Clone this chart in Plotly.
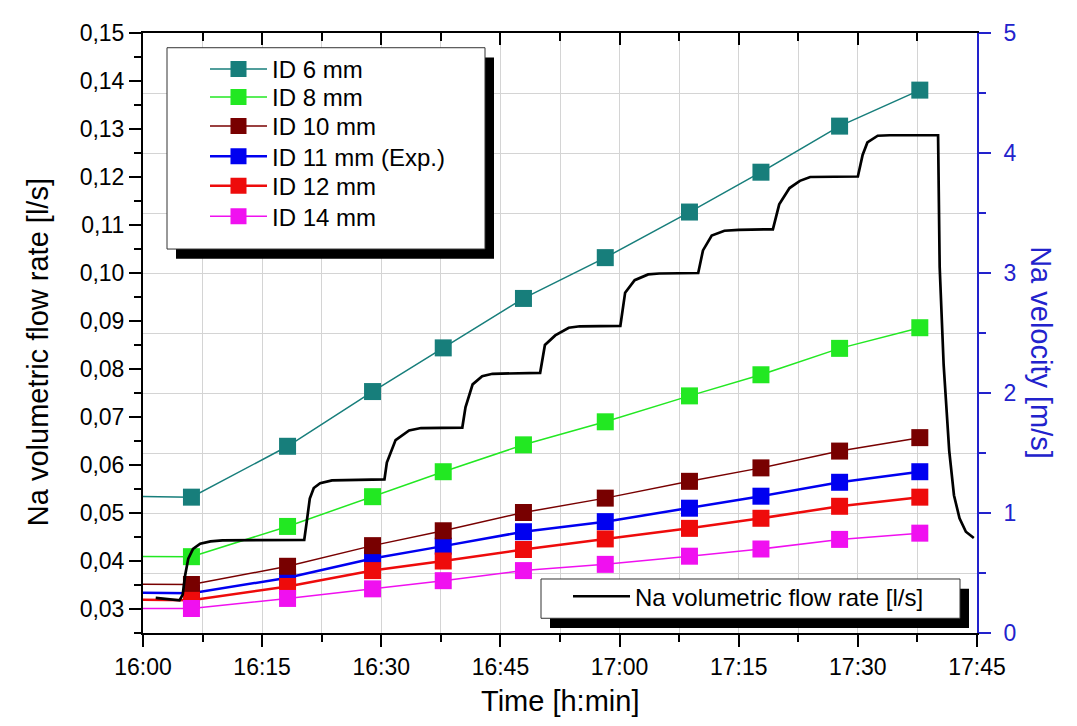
import pandas as pd
import plotly.graph_objects as go

DAY = "2024-01-01 "

# ---- data ----------------------------------------------------------------
marker_times = ["15:56:00", "16:06:06", "16:18:12", "16:28:54", "16:37:48", "16:47:54",
                "16:58:12", "17:08:48", "17:17:48", "17:27:42", "17:37:48"]
id6_flow = [0.0535, 0.0533, 0.0639, 0.0753, 0.0844, 0.0947, 0.1032, 0.1127, 0.1210, 0.1306, 0.1381]
id8_flow = [0.0410, 0.0409, 0.0472, 0.0534, 0.0586, 0.0642, 0.0690, 0.0744, 0.0788, 0.0843, 0.0886]
id10_flow = [0.0352, 0.0351, 0.0389, 0.0432, 0.0463, 0.0501, 0.0531, 0.0566, 0.0594, 0.0629, 0.0657]
id11_flow = [0.0334, 0.0333, 0.0365, 0.0405, 0.0431, 0.0461, 0.0482, 0.0510, 0.0535, 0.0564, 0.0586]
id12_flow = [0.0320, 0.0318, 0.0347, 0.0380, 0.0400, 0.0424, 0.0446, 0.0468, 0.0489, 0.0514, 0.0533]
id14_flow = [0.0301, 0.0301, 0.0322, 0.0342, 0.0359, 0.0380, 0.0393, 0.0410, 0.0425, 0.0445, 0.0458]

measured_times = [
    "16:01:36", "16:03:00", "16:04:36", "16:05:00", "16:05:18", "16:05:42", "16:06:18",
    "16:07:12", "16:08:30", "16:10:00", "16:20:18", "16:20:36", "16:21:00", "16:21:30",
    "16:22:18", "16:23:48", "16:30:24", "16:30:42", "16:31:48", "16:33:30", "16:35:00",
    "16:40:12", "16:40:36", "16:41:30", "16:42:42", "16:44:00", "16:50:00", "16:50:36",
    "16:51:54", "16:53:36", "16:55:00", "17:00:06", "17:00:42", "17:01:54", "17:03:36",
    "17:05:00", "17:09:54", "17:10:30", "17:11:36", "17:13:12", "17:15:00", "17:19:18",
    "17:20:06", "17:21:24", "17:22:42", "17:24:00", "17:30:00", "17:30:36", "17:31:12",
    "17:32:30", "17:34:00", "17:40:06", "17:40:18", "17:40:48", "17:41:30", "17:42:06",
    "17:42:48", "17:43:36", "17:44:36"]
measured_flow = [
    0.0323, 0.0321, 0.0318, 0.0330, 0.0370, 0.0405, 0.0425,
    0.0436, 0.0441, 0.0443, 0.0444, 0.0480, 0.0530, 0.0552,
    0.0562, 0.0568, 0.0570, 0.0605, 0.0652, 0.0672, 0.0677,
    0.0678, 0.0720, 0.0768, 0.0785, 0.0790, 0.0792, 0.0850,
    0.0870, 0.0886, 0.0889, 0.0890, 0.0959, 0.0985, 0.0997,
    0.0999, 0.1000, 0.1047, 0.1078, 0.1088, 0.1090, 0.1091,
    0.1143, 0.1177, 0.1192, 0.1200, 0.1201, 0.1246, 0.1272,
    0.1286, 0.1287, 0.1287, 0.1013, 0.0809, 0.0630, 0.0537,
    0.0489, 0.0461, 0.0448]

series_names = ["ID 6 mm", "ID 8 mm", "ID 10 mm", "ID 11 mm (Exp.)", "ID 12 mm", "ID 14 mm"]
series_values = [id6_flow, id8_flow, id10_flow, id11_flow, id12_flow, id14_flow]
series_colors = ["#177e7b", "#22e822", "#780000", "#0000f0", "#ee0b0b", "#f010f0"]
series_widths = [1.5, 1.5, 1.5, 2.5, 2.5, 1.5]
draw_order = [0, 1, 3, 2, 4, 5]

x_range = ["16:00", "17:45"]

# ---- figure --------------------------------------------------------------
FONT = "Arial, 'Liberation Sans', sans-serif"
BLUE_AX = "#2222cc"
GRID = "#d4d4d4"


def px_x(p):
    # window pixel -> paper fraction of the plot area (x)
    return (p - 143) / 834


def px_y(p):
    # window pixel -> paper fraction of the plot area (y)
    return (633 - p) / 611


mt = pd.to_datetime([DAY + t for t in marker_times])
ft = pd.to_datetime([DAY + t for t in measured_times])

legend_rows = [59, 87.5, 117, 148, 178, 209]

fig = go.Figure()
for i in draw_order:
    fig.add_trace(go.Scatter(
        x=mt, y=series_values[i], name=series_names[i], mode="lines+markers",
        line=dict(color=series_colors[i], width=series_widths[i]),
        marker=dict(symbol="square", size=17, color=series_colors[i]),
        legend=f"legend{i + 2}",
    ))
fig.add_trace(go.Scatter(
    x=ft, y=measured_flow, name="Na volumetric flow rate [l/s]", mode="lines",
    line=dict(color="black", width=2.7), legend="legend",
))
# empty trace that carries the top (mirror) axis
fig.add_trace(go.Scatter(x=[], y=[], xaxis="x2", yaxis="y", showlegend=False, hoverinfo="skip"))
# empty trace that carries the right axis
fig.add_trace(go.Scatter(x=[], y=[], xaxis="x", yaxis="y2", showlegend=False, hoverinfo="skip"))

xr = [DAY + x_range[0], DAY + x_range[1]]
common_x = dict(type="date", range=xr, tick0=DAY + "16:00", dtick=900000)

legend_style = dict(xanchor="left", yanchor="middle", bgcolor="rgba(0,0,0,0)", borderwidth=0,
                    font=dict(size=24, family=FONT), itemwidth=57)

# page body has an 8px margin: figure occupies 8..1069 x 8..718 of the window
layout = dict(
    width=1061, height=710,
    margin=dict(l=135, r=92, t=14, b=85),
    paper_bgcolor="white", plot_bgcolor="white",
    separators=", ",
    font=dict(family=FONT, size=23, color="black"),
    xaxis=dict(
        **common_x, tickformat="%H:%M",
        showline=True, linecolor="black", linewidth=2,
        ticks="outside", ticklen=12, tickwidth=2, tickcolor="black",
        showgrid=True, gridcolor=GRID, gridwidth=1,
        minor=dict(dtick=450000, ticks="outside", ticklen=7, tickwidth=2,
                   tickcolor="black", showgrid=True, gridcolor=GRID, gridwidth=1),
        zeroline=False, tickfont=dict(size=23),
    ),
    xaxis2=dict(
        **common_x, overlaying="x", side="top",
        showline=True, linecolor="black", linewidth=2,
        ticks="inside", ticklen=12, tickwidth=2, tickcolor="black",
        minor=dict(dtick=450000, ticks="inside", ticklen=8, tickwidth=2, tickcolor="black"),
        showticklabels=False, showgrid=False, zeroline=False,
    ),
    yaxis=dict(
        range=[0.025, 0.15], tick0=0, dtick=0.01, tickformat=".2f",
        showline=True, linecolor="black", linewidth=2,
        ticks="outside", ticklen=12, tickwidth=2, tickcolor="black",
        minor=dict(dtick=0.005, ticks="outside", ticklen=7, tickwidth=2, tickcolor="black"),
        showgrid=False, zeroline=False, tickfont=dict(size=23),
    ),
    yaxis2=dict(
        range=[0, 5], dtick=1, overlaying="y", side="right",
        showline=True, linecolor=BLUE_AX, linewidth=2,
        ticks="outside", ticklen=12, tickwidth=2, tickcolor=BLUE_AX,
        showgrid=True, gridcolor=GRID, gridwidth=1,
        minor=dict(dtick=0.5, ticks="outside", ticklen=7, tickwidth=2,
                   tickcolor=BLUE_AX, showgrid=True, gridcolor=GRID, gridwidth=1),
        zeroline=False, tickfont=dict(size=23, color=BLUE_AX), ticklabelstandoff=8,
    ),
    legend=dict(x=px_x(568), y=px_y(596), **legend_style),
    showlegend=True,
)
for i, row in enumerate(legend_rows):
    layout[f"legend{i + 2}"] = dict(x=px_x(205), y=px_y(row), **legend_style)
fig.update_layout(**layout)

shapes = []
for (x0, y0, x1, y1) in [(167, 37, 485, 242), (541, 578, 960, 618)]:
    shapes.append(dict(type="rect", xref="paper", yref="paper", layer="above",
                       x0=px_x(x0 + 9), x1=px_x(x1 + 9), y0=px_y(y1 + 10), y1=px_y(y0 + 10),
                       fillcolor="black", line=dict(width=0)))
    shapes.append(dict(type="rect", xref="paper", yref="paper", layer="above",
                       x0=px_x(x0), x1=px_x(x1), y0=px_y(y1), y1=px_y(y0),
                       fillcolor="white", line=dict(color="#333333", width=1)))
fig.update_layout(shapes=shapes)

fig.add_annotation(text="Time [h:min]", xref="paper", yref="paper",
                   x=0.5, y=px_y(702), xanchor="center", yanchor="middle",
                   showarrow=False, font=dict(size=29, family=FONT, color="black"))
fig.add_annotation(text="Na volumetric flow rate [l/s]", xref="paper", yref="paper",
                   x=px_x(38), y=px_y(347), xanchor="center", yanchor="middle", textangle=-90,
                   showarrow=False, font=dict(size=29, family=FONT, color="black"))
fig.add_annotation(text="Na velocity [m/s]", xref="paper", yref="paper",
                   x=px_x(1041), y=px_y(347), xanchor="center", yanchor="middle", textangle=90,
                   showarrow=False, font=dict(size=29, family=FONT, color=BLUE_AX))

fig.write_html("out.html")
